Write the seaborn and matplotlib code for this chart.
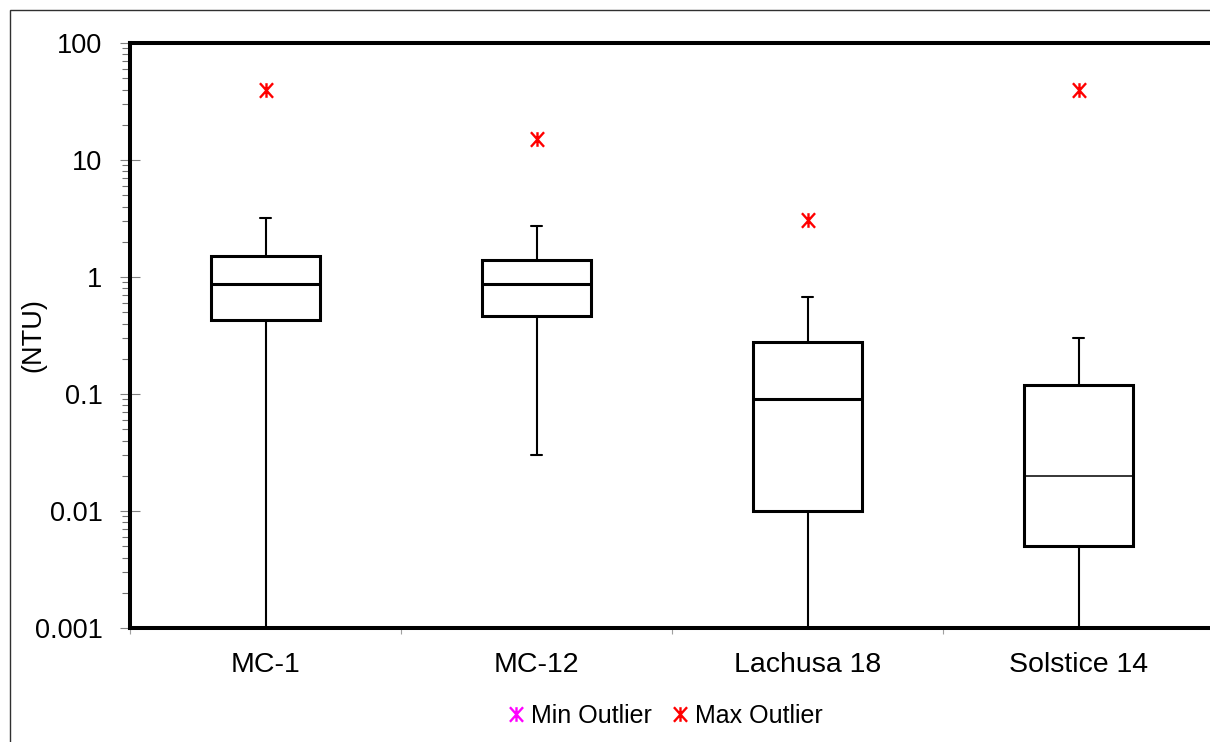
import numpy as np
import pandas as pd
import seaborn as sns
import matplotlib.pyplot as plt
from matplotlib.path import Path
from matplotlib.lines import Line2D
from matplotlib.patches import Rectangle
from matplotlib.ticker import LogLocator, NullFormatter

# --- data -------------------------------------------------------------------
sites = ["MC-1", "MC-12", "Lachusa 18", "Solstice 14"]
lowest = [0.001, 0.03, 0.001, 0.001]
lower_quartile = [0.43, 0.46, 0.01, 0.005]
medians = [0.87, 0.87, 0.09, 0.02]
upper_quartile = [1.5, 1.4, 0.28, 0.12]
highest = [3.2, 2.75, 0.67, 0.3]
max_outliers = [40, 15, 3.1, 40]
y_ticks = [0.001, 0.01, 0.1, 1, 10, 100]
y_tick_labels = ["0.001", "0.01", "0.1", "1", "10", "100"]
legend_labels = ["Min Outlier", "Max Outlier"]

# Five-number summary per site: with five points per group the quartiles
# and (0, 100) whiskers land exactly on these values.
rows = []
for i, s in enumerate(sites):
    for v in (lowest[i], lower_quartile[i], medians[i], upper_quartile[i], highest[i]):
        rows.append({"site": s, "turbidity": v})
summary = pd.DataFrame(rows)

# --- style ------------------------------------------------------------------
sns.set_theme(style="white")
plt.rcParams["font.family"] = ["Liberation Sans", "DejaVu Sans"]
plt.rcParams["text.color"] = "black"

# asterisk marker: vertical stroke plus a cross
star = Path(
    [(0, -1), (0, 1), (-0.9, -1), (0.9, 1), (-0.9, 1), (0.9, -1)],
    [Path.MOVETO, Path.LINETO] * 3,
)

W, H = 1210, 742
fig = plt.figure(figsize=(W / 100, H / 100), dpi=100)
ax = fig.add_axes([130 / W, 1 - 628 / H, 1084 / W, 585 / H])
ax.set_yscale("log")

common = dict(
    x="site", y="turbidity", order=sites, whis=(0, 100), width=0.40,
    color="white", linecolor="black", linewidth=2.2, fill=True,
    capwidths=0.04,
    whiskerprops=dict(linewidth=1.5), capprops=dict(linewidth=1.5),
    ax=ax,
)
sns.boxplot(data=summary[summary["site"] != "Solstice 14"],
            medianprops=dict(linewidth=2.2), **common)
sns.boxplot(data=summary[summary["site"] == "Solstice 14"],
            medianprops=dict(linewidth=1.1), **common)

sns.stripplot(x=sites, y=max_outliers, order=sites, jitter=False,
              marker=star, size=10.5, color="red", edgecolor="red",
              linewidth=1.7, ax=ax, zorder=5)

# --- axes -------------------------------------------------------------------
ax.set_xlim(-0.5, 3.5)
ax.set_ylim(0.001, 100)
ax.set_xlabel("")
ax.set_ylabel("(NTU)", fontsize=19.5, color="black")
ax.yaxis.set_label_coords(-0.077, 0.5)

ax.set_yticks(y_ticks, y_tick_labels)
ax.yaxis.set_minor_locator(LogLocator(base=10, subs=np.arange(2, 10)))
ax.yaxis.set_minor_formatter(NullFormatter())
ax.tick_params(axis="y", which="major", direction="inout", length=13.7,
               width=0.8, color="#808080", labelsize=19.5, pad=13,
               left=True, labelcolor="black")
ax.tick_params(axis="y", which="minor", direction="out", length=6,
               width=0.8, color="#707070", left=True)

ax.set_xticks([-0.5, 0.5, 1.5, 2.5, 3.5], minor=True)
ax.tick_params(axis="x", which="major", length=0, labelsize=20.5, pad=17.5,
               bottom=True, labelcolor="black")
ax.tick_params(axis="x", which="minor", direction="out", length=4.5,
               width=0.8, color="#a0a0a0", bottom=True)
ax.grid(False)

for sp in ax.spines.values():
    sp.set_linewidth(2.9)
    sp.set_color("black")

# --- legend -----------------------------------------------------------------
handles = [
    Line2D([], [], marker=star, linestyle="none", markersize=10.5,
           markeredgewidth=1.7, color=c)
    for c in ("magenta", "red")
]
fig.legend(handles, legend_labels, loc="center", ncol=2, frameon=False,
           bbox_to_anchor=(665 / W, 1 - 716 / H),
           bbox_transform=fig.transFigure, fontsize=18,
           handlelength=0.7, handletextpad=0.25, columnspacing=0.75)

# outer chart border
fig.patches.append(Rectangle((10 / W, -0.1), 1.2, 1.1 - 10 / H,
                             transform=fig.transFigure, fill=False,
                             edgecolor="#303030", linewidth=1))

fig.savefig("out.png", dpi=100)
